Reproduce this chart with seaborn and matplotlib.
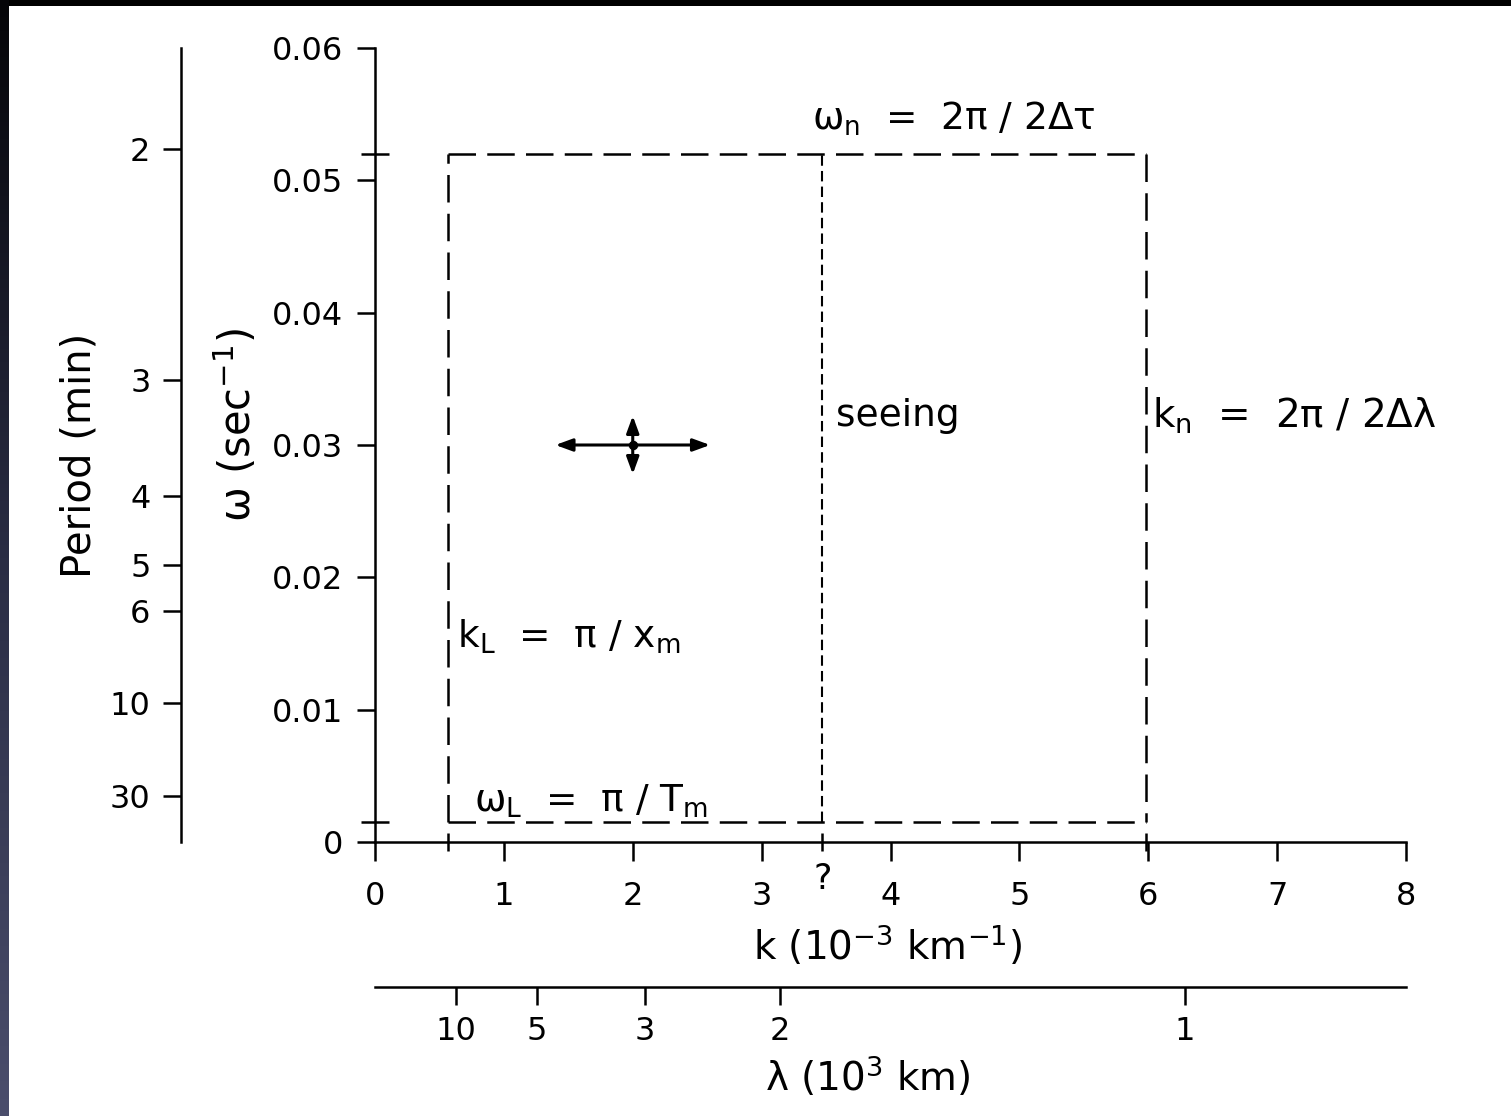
import numpy as np
import matplotlib
matplotlib.use("Agg")
import matplotlib.pyplot as plt
import seaborn as sns
import pandas as pd
from matplotlib.colors import LinearSegmentedColormap

# ---------------- data ----------------
k_ticks = [0, 1, 2, 3, 4, 5, 6, 7, 8]
w_ticks = [0.0, 0.01, 0.02, 0.03, 0.04, 0.05, 0.06]
w_ticklabels = ["0", "0.01", "0.02", "0.03", "0.04", "0.05", "0.06"]
period_min = [2, 3, 4, 5, 6, 10, 30]
wavelength_1e3km = [10, 5, 3, 2, 1]
k_L = 0.57
k_seeing = 3.47
k_n = 5.98
w_L = 0.0015
w_n = 0.052
cross_k = 2.0
cross_w = 0.030
cross_dk = 0.60
cross_dw = 0.0022

# ---------------- style ----------------
sns.set_theme(style="white")
plt.rcParams["font.family"] = ["DejaVu Sans"]
plt.rcParams["mathtext.fontset"] = "dejavusans"
plt.rcParams["mathtext.default"] = "regular"

W, H = 1511, 1116
fig = plt.figure(figsize=(W / 100, H / 100), dpi=100, facecolor="white")

# frame borders seen in the reference (black top bar, dark slate left bar)
top = fig.add_axes([0, 1 - 6 / H, 1, 6 / H])
top.set_facecolor("black")
top.set_xticks([]); top.set_yticks([])
for s in top.spines.values():
    s.set_visible(False)
left = fig.add_axes([0, 0, 9 / W, 1])
grad = np.linspace(0, 1, 256).reshape(-1, 1)
cm = LinearSegmentedColormap.from_list("edge", ["#050508", "#2a2d44", "#4b4e6c"])
left.imshow(grad, aspect="auto", cmap=cm, origin="upper")
left.set_xticks([]); left.set_yticks([])
for s in left.spines.values():
    s.set_visible(False)

x0, x1 = 375, 1406
y0, y1 = 842, 48
ax = fig.add_axes([x0 / W, 1 - y0 / H, (x1 - x0) / W, (y0 - y1) / H])
ax.set_facecolor("none")
ax.set_xlim(0, 8)
ax.set_ylim(0, 0.06)

LW = 1.8
TFS = 23   # tick label size
LFS = 28   # axis label size
AFS = 27   # annotation size
for s in ["top", "right"]:
    ax.spines[s].set_visible(False)
for s in ["left", "bottom"]:
    ax.spines[s].set_color("black")
    ax.spines[s].set_linewidth(LW)

ax.set_xticks(k_ticks)
ax.set_xticklabels([str(v) for v in k_ticks])
ax.set_yticks(w_ticks)
ax.set_yticklabels(w_ticklabels)
ax.set_xticks([k_L, k_seeing, k_n], minor=True)
ax.set_yticks([w_L, w_n], minor=True)
ax.tick_params(axis="x", which="major", direction="out", length=14, width=LW, bottom=True,
               color="black", labelsize=TFS, pad=14, labelcolor="black")
ax.tick_params(axis="y", which="major", direction="out", length=13, width=LW, left=True,
               color="black", labelsize=TFS, pad=10, labelcolor="black")
ax.tick_params(axis="x", which="minor", direction="inout", length=13, width=LW,
               bottom=True, color="black")
ax.tick_params(axis="y", which="minor", direction="inout", length=20, width=LW,
               left=True, color="black")

# dashed rectangle (each edge separate)
box = pd.DataFrame({
    "edge": [0, 0, 1, 1, 2, 2, 3, 3],
    "k": [k_L, k_L, k_L, k_n, k_n, k_n, k_L, k_n],
    "w": [w_L, w_n, w_n, w_n, w_n, w_L, w_L, w_L],
})
sns.lineplot(data=box, x="k", y="w", units="edge", estimator=None, sort=False,
             color="black", linewidth=1.8, linestyle=(0, (11, 4.5)), ax=ax, legend=False)
# seeing line
seeing = pd.DataFrame({"k": [k_seeing, k_seeing], "w": [w_L, w_n]})
sns.lineplot(data=seeing, x="k", y="w", estimator=None, sort=False,
             color="black", linewidth=1.5, linestyle=(0, (5, 2.5)), ax=ax, legend=False)

# arrow cross
ends = [(cross_k - cross_dk, cross_w), (cross_k + cross_dk, cross_w),
        (cross_k, cross_w + cross_dw), (cross_k, cross_w - cross_dw)]
for e in ends:
    ax.annotate("", xy=e, xytext=(cross_k, cross_w),
                arrowprops=dict(arrowstyle="-|>,head_length=0.6,head_width=0.22",
                                color="black", lw=2.2,
                                mutation_scale=17, shrinkA=0, shrinkB=0))
sns.scatterplot(x=[cross_k], y=[cross_w], color="black", s=55, ax=ax, legend=False)

ax.set_xlabel("")
ax.set_ylabel("")

# annotations
ax.text(k_seeing - 0.08, w_n + 0.0012, r"$\omega_{\rm n}$  =  2$\pi$ / 2$\Delta\tau$",
        fontsize=AFS, ha="left", va="bottom", color="black")
ax.text(k_seeing + 0.11, 0.0322, "seeing", fontsize=AFS, ha="left", va="center", color="black")
ax.text(k_n + 0.05, 0.0322, r"k$_{\rm n}$  =  2$\pi$ / 2$\Delta\lambda$",
        fontsize=AFS + 1, ha="left", va="center", color="black")
ax.text(k_L + 0.07, 0.0155, r"k$_{\rm L}$  =  $\pi$ / x$_{\rm m}$",
        fontsize=AFS, ha="left", va="center", color="black")
ax.text(k_L + 0.2, w_L + 0.0002, r"$\omega_{\rm L}$  =  $\pi$ / T$_{\rm m}$",
        fontsize=AFS, ha="left", va="bottom", color="black")
ax.text(k_seeing, -0.0028, "?", fontsize=TFS + 2, ha="center", va="center", color="black")

# axis labels
ax.text(0.4976, -0.13, r"k (10$^{-3}$ km$^{-1}$)", transform=ax.transAxes,
        fontsize=LFS, ha="center", va="center", color="black")
ax.text(-0.134, 0.525, r"$\omega$ (sec$^{-1}$)", transform=ax.transAxes, rotation=90,
        fontsize=LFS + 2, ha="center", va="center", color="black")

# period axis (left, offset)
ident = (lambda v: v, lambda v: v)
sec = ax.secondary_yaxis((181 - x0) / (x1 - x0), functions=ident)
sec.set_yticks([2 * np.pi / (60 * p) for p in period_min])
sec.set_yticklabels([str(p) for p in period_min])
sec.spines["left"].set_linewidth(LW)
sec.spines["left"].set_color("black")
sec.tick_params(axis="y", direction="out", length=13, width=LW, color="black", left=True,
                labelsize=TFS, pad=9, labelcolor="black")
ax.text((80 - x0) / (x1 - x0), (y0 - 455) / (y0 - y1), "Period (min)",
        transform=ax.transAxes, rotation=90, fontsize=LFS + 1,
        ha="center", va="center", color="black")

# wavelength axis (bottom, offset)
secx = ax.secondary_xaxis((y0 - 987) / (y0 - y1), functions=ident)
secx.set_xticks([2 * np.pi / lam for lam in wavelength_1e3km])
secx.set_xticklabels([str(l) for l in wavelength_1e3km])
secx.spines["bottom"].set_linewidth(LW)
secx.spines["bottom"].set_color("black")
secx.tick_params(axis="x", direction="out", length=13, width=LW, color="black", bottom=True,
                 labelsize=TFS, pad=8, labelcolor="black")
ax.text((868 - x0) / (x1 - x0), (y0 - 1077) / (y0 - y1), r"$\lambda$ (10$^{3}$ km)",
        transform=ax.transAxes, fontsize=LFS, ha="center", va="center", color="black")

fig.savefig("out.png", dpi=100, facecolor="white")
